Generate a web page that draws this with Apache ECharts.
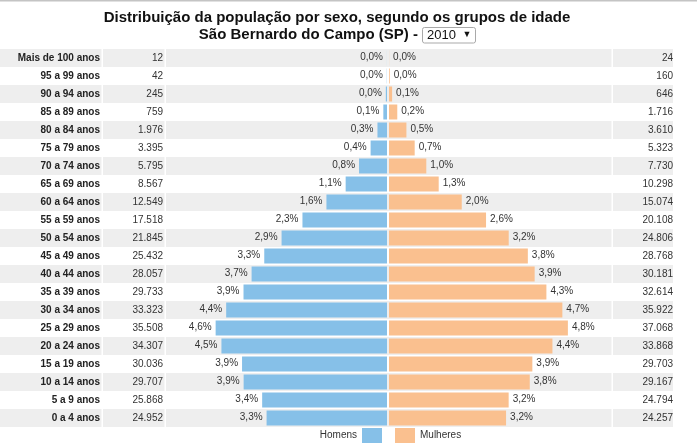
<!DOCTYPE html>
<html>
<head>
<meta charset="utf-8">
<script src="https://cdn.jsdelivr.net/npm/echarts@6/dist/echarts.min.js"></script>
<style>html,body{margin:0;padding:0;background:#fff}#c{width:697px;height:446px}</style>
</head>
<body>
<div id="c"></div>
<script>
const categories = ['Mais de 100 anos','95 a 99 anos','90 a 94 anos','85 a 89 anos','80 a 84 anos','75 a 79 anos','70 a 74 anos','65 a 69 anos','60 a 64 anos','55 a 59 anos','50 a 54 anos','45 a 49 anos','40 a 44 anos','35 a 39 anos','30 a 34 anos','25 a 29 anos','20 a 24 anos','15 a 19 anos','10 a 14 anos','5 a 9 anos','0 a 4 anos'];
const homens = [12,42,245,759,1976,3395,5795,8567,12549,17518,21845,25432,28057,29733,33323,35508,34307,30036,29707,25868,24952];
const mulheres = [24,160,646,1716,3610,5323,7730,10298,15074,20108,24806,28768,30181,32614,35922,37068,33868,29703,29167,24794,24257];
const titleLine1 = 'Distribuição da população por sexo, segundo os grupos de idade';
const titleLine2 = 'São Bernardo do Campo (SP) -';
const yearText = '2010';

const total = homens.reduce((a,b)=>a+b,0) + mulheres.reduce((a,b)=>a+b,0);
const fmtNum = v => String(v).replace(/\B(?=(\d{3})+(?!\d))/g, '.');
const fmtPct = v => (v/total*100).toFixed(1).replace('.', ',') + '%';
const FONT = 'Arial, "Liberation Sans", sans-serif';
const BLUE = '#86c0e8', ORANGE = '#fac08f';
const AXMAX = 46000;
const TOP = 49, H = 378;

const chart = echarts.init(document.getElementById('c'), null, {renderer:'canvas'});
chart.setOption({
  animation:false,
  grid:[
    {left:0, width:673, top:TOP, height:H},
    {left:165, width:222, top:TOP, height:H},
    {left:389, width:222, top:TOP, height:H}
  ],
  xAxis:[
    {gridIndex:0, type:'value', show:false, min:0, max:1},
    {gridIndex:1, type:'value', show:false, inverse:true, min:0, max:AXMAX},
    {gridIndex:2, type:'value', show:false, min:0, max:AXMAX}
  ],
  yAxis:[
    {gridIndex:0, type:'category', data:categories, inverse:true,
     axisLine:{show:false}, axisTick:{show:false}, axisLabel:{show:false},
     splitLine:{show:false},
     splitArea:{show:true, interval:0, areaStyle:{color:['#eeeeee','#ffffff']}}},
    {gridIndex:1, type:'category', data:categories, inverse:true,
     axisLine:{show:false}, axisTick:{show:false}, splitLine:{show:false},
     axisLabel:{margin:2, interval:0,
       formatter:(v,i)=>'{a|'+v+'}{b|'+fmtNum(homens[i])+'}',
       rich:{
         a:{width:100, align:'right', fontFamily:FONT, fontSize:10, fontWeight:'bold', color:'#222'},
         b:{width:63, align:'right', fontFamily:FONT, fontSize:10, color:'#333'}
       }}},
    {gridIndex:2, type:'category', data:categories, inverse:true, position:'right',
     axisLine:{show:false}, axisTick:{show:false}, splitLine:{show:false},
     axisLabel:{margin:2, interval:0,
       formatter:(v,i)=>'{c|'+fmtNum(mulheres[i])+'}',
       rich:{c:{width:60, align:'right', fontFamily:FONT, fontSize:10, color:'#333'}}}}
  ],
  legend:[
    {data:['Homens'], icon:'rect', selectedMode:false, right:315, top:428, align:'right', itemWidth:20, itemHeight:15, itemGap:0, padding:0,
     textStyle:{fontFamily:FONT, fontSize:10, color:'#333'}},
    {data:['Mulheres'], icon:'rect', selectedMode:false, left:395, top:428, align:'left', itemWidth:20, itemHeight:15, itemGap:0, padding:0,
     textStyle:{fontFamily:FONT, fontSize:10, color:'#333'}}
  ],
  series:[
    {name:'Homens', type:'bar', xAxisIndex:1, yAxisIndex:1, data:homens, barWidth:15,
     itemStyle:{color:BLUE},
     label:{show:true, position:'left', distance:4, offset:[0,-1], formatter:p=>fmtPct(p.value),
       fontFamily:FONT, fontSize:10, color:'#333'}},
    {name:'Mulheres', type:'bar', xAxisIndex:2, yAxisIndex:2, data:mulheres, barWidth:15,
     itemStyle:{color:ORANGE},
     label:{show:true, position:'right', distance:4, offset:[0,-1], formatter:p=>fmtPct(p.value),
       fontFamily:FONT, fontSize:10, color:'#333'}}
  ],
  graphic:[
    {type:'rect', shape:{x:0,y:0,width:697,height:1.5}, style:{fill:'#c4c4c4'}, silent:true},
    {type:'rect', shape:{x:101.5,y:TOP,width:1.5,height:H}, style:{fill:'#fff'}, silent:true, z:5},
    {type:'rect', shape:{x:164.5,y:TOP,width:1.5,height:H}, style:{fill:'#fff'}, silent:true, z:5},
    {type:'rect', shape:{x:611.5,y:TOP,width:1.5,height:H}, style:{fill:'#fff'}, silent:true, z:5},
    {type:'text', style:{text:titleLine1, x:337, y:18, align:'center', verticalAlign:'middle',
      font:'bold 15px '+FONT, fill:'#111'}},
    {type:'text', style:{text:titleLine2, x:418, y:35, align:'right', verticalAlign:'middle',
      font:'bold 15px '+FONT, fill:'#111'}},
    {type:'rect', shape:{x:422.5,y:27.5,width:53,height:15.5,r:2}, style:{fill:'#fff', stroke:'#a9a9a9', lineWidth:1}},
    {type:'text', style:{text:yearText, x:427, y:35.5, align:'left', verticalAlign:'middle',
      font:'13px '+FONT, fill:'#111'}},
    {type:'text', style:{text:'▼', x:467, y:35, align:'center', verticalAlign:'middle',
      font:'9px '+FONT, fill:'#111'}}
  ]
});
</script>
</body>
</html>
